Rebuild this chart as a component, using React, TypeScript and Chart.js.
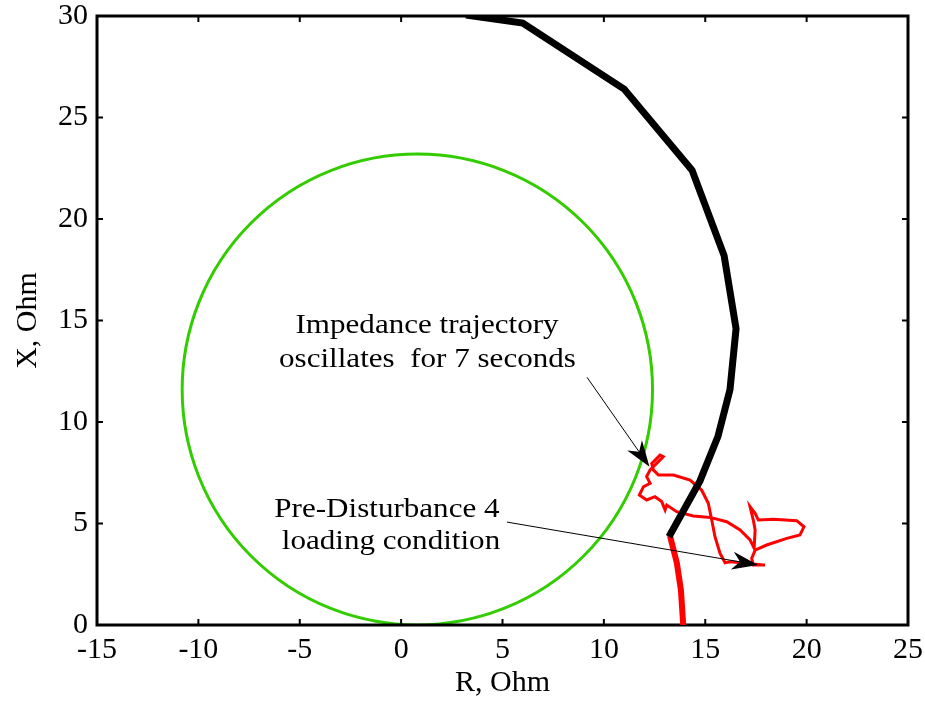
import React, { useEffect, useRef } from 'react';
import { Chart, registerables } from 'chart.js';

Chart.register(...registerables);

// Axis ranges / ticks
const X_MIN = -15;
const X_MAX = 25;
const Y_MIN = 0;
const Y_MAX = 30;
const TICK_STEP = 5;

// Mho relay characteristic (circle): center and radius in Ohm
const MHO_CENTER_R = 0.8;
const MHO_CENTER_X = 11.6;
const MHO_RADIUS = 11.6;

// Black thick curve (R, X)
const blackR = [3.2, 6.0, 11.0, 14.35, 15.93, 16.52, 16.22, 15.63, 14.74, 13.21];
const blackX = [30.05, 29.65, 26.4, 22.4, 18.2, 14.6, 11.6, 9.3, 7.1, 4.35];

// Red thick segment (R, X)
const redThickR = [13.26, 13.6, 13.8, 13.92];
const redThickX = [4.4, 3.05, 1.72, -0.1];

// Red oscillating impedance trajectory (R, X)
const trajR = [
  17.87, 17.04, 16.22, 15.98, 15.73, 15.48, 15.32, 15.15, 14.82, 14.25,
  13.43, 12.69, 12.44, 12.36, 12.77, 12.93, 12.6, 12.28, 12.11, 12.28,
  11.95, 11.75, 12.11, 12.52, 12.85, 13.02, 13.1, 13.59, 14.41, 15.24,
  16.06, 16.72, 17.21, 17.41, 17.46, 17.37, 17.21, 17.46, 17.62, 18.36,
  19.51, 19.87, 19.67, 19.02, 18.03, 17.46, 17.29, 17.37, 17.95,
];
const trajX = [
  2.96, 3.04, 3.12, 3.07, 3.53, 4.35, 5.17, 6.0, 6.65, 7.14,
  7.39, 7.39, 7.64, 7.96, 8.37, 8.29, 7.96, 7.64, 7.31, 6.98,
  6.81, 6.4, 6.16, 6.32, 6.08, 5.67, 5.91, 5.58, 5.37, 5.3,
  5.09, 4.68, 4.19, 3.78, 4.68, 5.17, 5.83, 5.5, 5.17, 5.21,
  5.14, 4.84, 4.43, 4.27, 3.94, 3.69, 3.28, 2.96, 2.96,
];

// Annotation texts and anchors (data coords)
const note1Lines = ['Impedance trajectory', 'oscillates  for 7 seconds'];
const note1R = [1.28, 1.3];
const note1X = [14.4, 12.7];
const note1Arrow = { fromR: 9.17, fromX: 12.2, toR: 12.25, toX: 7.8 };

const note2Lines = ['Pre-Disturbance 4', 'loading condition'];
const note2R = [-0.7, -0.5];
const note2X = [5.3, 3.75];
const note2Arrow = { fromR: 5.22, fromX: 5.07, toR: 17.6, toX: 2.96 };

const FONT_FAMILY = '"Liberation Serif", "Times New Roman", serif';

const toPoints = (xs: number[], ys: number[]) => xs.map((v, i) => ({ x: v, y: ys[i] }));

function drawArrow(ctx: CanvasRenderingContext2D, x0: number, y0: number, x1: number, y1: number, headLen: number, headHalf: number) {
  const ang = Math.atan2(y1 - y0, x1 - x0);
  const cos = Math.cos(ang);
  const sin = Math.sin(ang);
  ctx.save();
  ctx.strokeStyle = '#000';
  ctx.fillStyle = '#000';
  ctx.lineWidth = 1;
  ctx.beginPath();
  ctx.moveTo(x0, y0);
  ctx.lineTo(x1 - cos * headLen * 0.6, y1 - sin * headLen * 0.6);
  ctx.stroke();
  const bx = x1 - cos * headLen;
  const by = y1 - sin * headLen;
  const nx = x1 - cos * headLen * 0.7;
  const ny = y1 - sin * headLen * 0.7;
  ctx.beginPath();
  ctx.moveTo(x1, y1);
  ctx.lineTo(bx - sin * headHalf, by + cos * headHalf);
  ctx.lineTo(nx, ny);
  ctx.lineTo(bx + sin * headHalf, by - cos * headHalf);
  ctx.closePath();
  ctx.fill();
  ctx.restore();
}

const overlayPlugin = {
  id: 'overlay',
  beforeDatasetsDraw(chart: any) {
    const { ctx, chartArea, scales } = chart;
    const xs = scales.x;
    const ys = scales.y;
    const cx = xs.getPixelForValue(MHO_CENTER_R);
    const cy = ys.getPixelForValue(MHO_CENTER_X);
    const rx = Math.abs(xs.getPixelForValue(MHO_CENTER_R + MHO_RADIUS) - cx);
    const ry = Math.abs(ys.getPixelForValue(MHO_CENTER_X + MHO_RADIUS) - cy);
    ctx.save();
    ctx.beginPath();
    ctx.rect(chartArea.left, chartArea.top, chartArea.right - chartArea.left, chartArea.bottom - chartArea.top);
    ctx.clip();
    ctx.strokeStyle = '#33cc00';
    ctx.lineWidth = 3;
    ctx.beginPath();
    ctx.ellipse(cx, cy, rx, ry, 0, 0, Math.PI * 2);
    ctx.stroke();
    ctx.restore();

    // frame with inward ticks
    const { left, right, top, bottom } = chartArea;
    ctx.save();
    ctx.strokeStyle = '#000';
    ctx.lineWidth = 3;
    ctx.strokeRect(left, top, right - left, bottom - top);
    ctx.lineWidth = 2;
    const tl = 6;
    ctx.beginPath();
    for (let v = X_MIN; v <= X_MAX; v += TICK_STEP) {
      const px = xs.getPixelForValue(v);
      ctx.moveTo(px, bottom);
      ctx.lineTo(px, bottom - tl);
      ctx.moveTo(px, top);
      ctx.lineTo(px, top + tl);
    }
    for (let v = Y_MIN; v <= Y_MAX; v += TICK_STEP) {
      const py = ys.getPixelForValue(v);
      ctx.moveTo(left, py);
      ctx.lineTo(left + tl, py);
      ctx.moveTo(right, py);
      ctx.lineTo(right - tl, py);
    }
    ctx.stroke();
    ctx.restore();
  },
  afterDraw(chart: any) {
    const { ctx, scales } = chart;
    const xs = scales.x;
    const ys = scales.y;
    ctx.save();
    ctx.fillStyle = '#000';
    ctx.font = `27.5px ${FONT_FAMILY}`;
    ctx.textAlign = 'center';
    ctx.textBaseline = 'alphabetic';
    const drawLines = (lines: string[], rs: number[], xsv: number[]) => {
      lines.forEach((t, i) => {
        const px = xs.getPixelForValue(rs[i]);
        const py = ys.getPixelForValue(xsv[i]);
        ctx.save();
        ctx.translate(px, py);
        ctx.scale(1.13, 1);
        ctx.fillText(t, 0, 0);
        ctx.restore();
      });
    };
    drawLines(note1Lines, note1R, note1X);
    drawLines(note2Lines, note2R, note2X);
    ctx.restore();

    drawArrow(ctx,
      xs.getPixelForValue(note1Arrow.fromR), ys.getPixelForValue(note1Arrow.fromX),
      xs.getPixelForValue(note1Arrow.toR), ys.getPixelForValue(note1Arrow.toX), 26, 9);
    drawArrow(ctx,
      xs.getPixelForValue(note2Arrow.fromR), ys.getPixelForValue(note2Arrow.fromX),
      xs.getPixelForValue(note2Arrow.toR), ys.getPixelForValue(note2Arrow.toX), 26, 9);
  },
};

const resetPadding = (scale: any) => {
  scale.paddingTop = 0;
  scale.paddingBottom = 0;
  scale.paddingLeft = 0;
  scale.paddingRight = 0;
};

export default function App() {
  const canvasRef = useRef<HTMLCanvasElement | null>(null);

  useEffect(() => {
    document.body.style.margin = '0';
    const canvas = canvasRef.current;
    if (!canvas) return;
    const chart = new Chart(canvas, {
      type: 'scatter',
      data: {
        datasets: [
          {
            label: 'Load trajectory',
            data: toPoints(blackR, blackX),
            showLine: true,
            borderColor: '#000000',
            borderWidth: 7,
            pointRadius: 0,
            clip: 0,
            borderJoinStyle: 'miter',
          } as any,
          {
            label: 'Impedance trajectory',
            data: toPoints(trajR, trajX),
            showLine: true,
            borderColor: '#ff0000',
            borderWidth: 3,
            pointRadius: 0,
            clip: 0,
          } as any,
          {
            label: 'Pre-disturbance',
            data: toPoints(redThickR, redThickX),
            showLine: true,
            borderColor: '#ff0000',
            borderWidth: 6,
            pointRadius: 0,
            clip: 0,
          } as any,
        ],
      },
      options: {
        responsive: false,
        animation: false,
        devicePixelRatio: 1,
        layout: { padding: { top: 16, right: 17, left: 0, bottom: 0 } },
        plugins: {
          legend: { display: false },
          tooltip: { enabled: false },
        },
        scales: {
          x: {
            type: 'linear',
            min: X_MIN,
            max: X_MAX,
            grid: { display: false, drawTicks: false },
            border: { display: false },
            ticks: {
              stepSize: TICK_STEP,
              color: '#000',
              padding: 7,
              font: { family: FONT_FAMILY, size: 30 },
              maxRotation: 0,
            },
            title: {
              display: true,
              text: 'R, Ohm',
              color: '#000',
              font: { family: FONT_FAMILY, size: 30 },
              padding: { top: 0, bottom: 3 },
            },
            afterFit: (scale: any) => { scale.height = 79; resetPadding(scale); },
          },
          y: {
            type: 'linear',
            min: Y_MIN,
            max: Y_MAX,
            grid: { display: false, drawTicks: false },
            border: { display: false },
            ticks: {
              stepSize: TICK_STEP,
              color: '#000',
              padding: 9,
              font: { family: FONT_FAMILY, size: 30 },
            },
            title: {
              display: true,
              text: 'X, Ohm',
              color: '#000',
              font: { family: FONT_FAMILY, size: 30 },
              padding: { top: 10, bottom: 0 },
            },
            afterFit: (scale: any) => { scale.width = 97; resetPadding(scale); },
          },
        },
      },
      plugins: [overlayPlugin],
    });
    return () => chart.destroy();
  }, []);

  return (
    <canvas ref={canvasRef} width={925} height={704} style={{ display: 'block' }} />
  );
}
